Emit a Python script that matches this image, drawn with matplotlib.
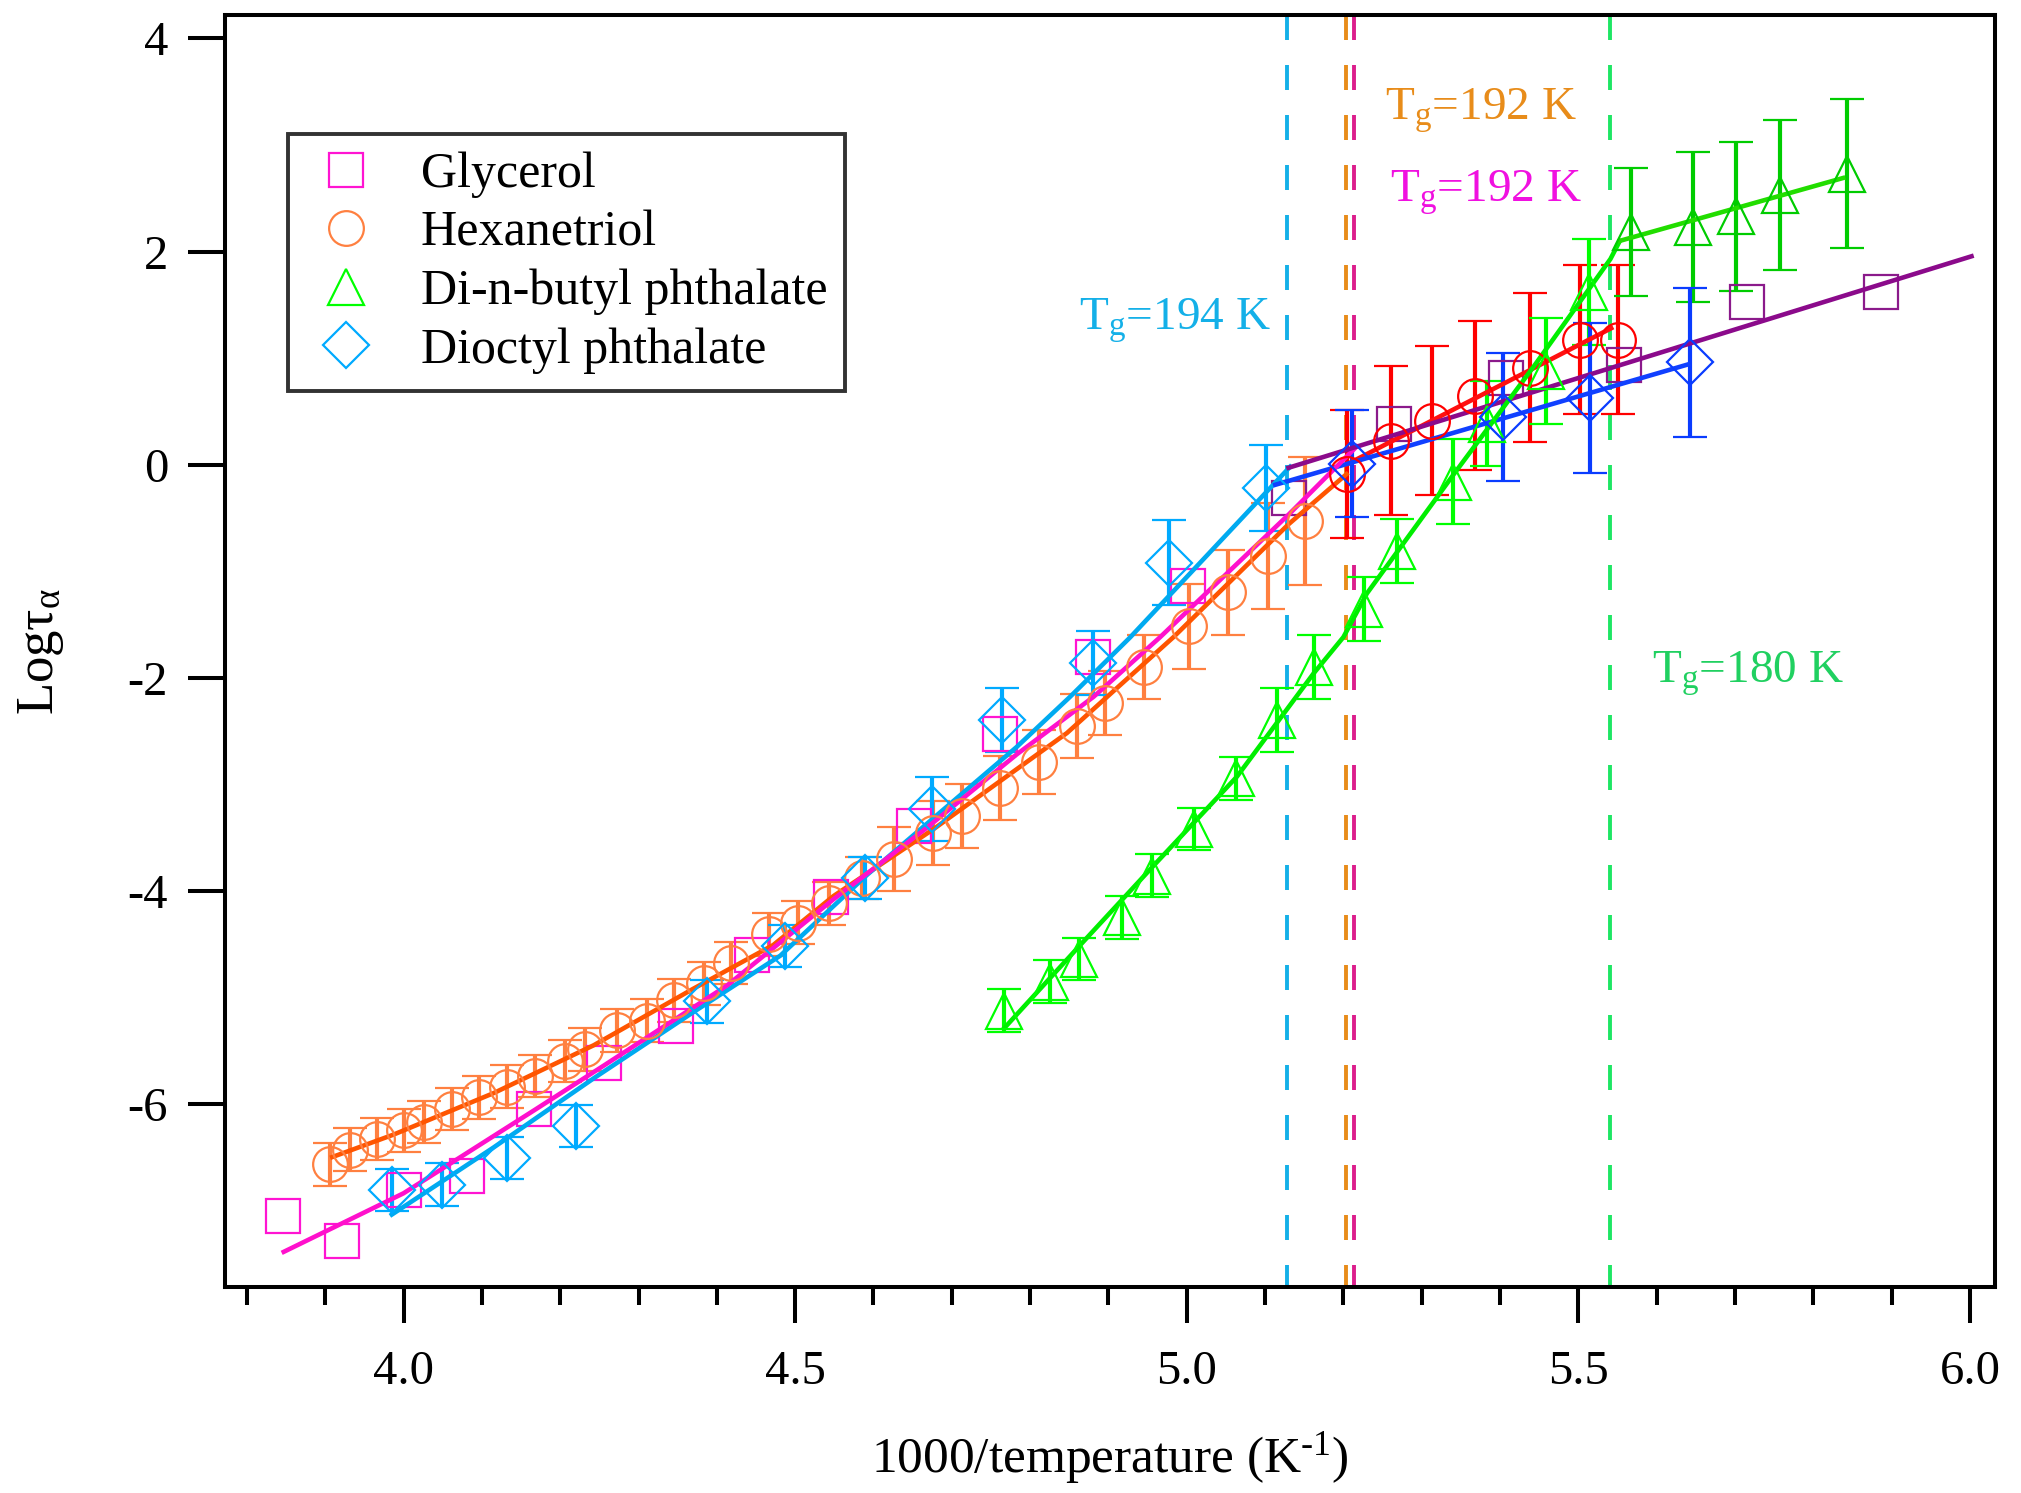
import numpy as np
import matplotlib
matplotlib.use('Agg')
import matplotlib.pyplot as plt
from matplotlib.lines import Line2D
from matplotlib.ticker import MultipleLocator, FormatStrFormatter

plt.rcParams['font.family'] = ['Liberation Serif', 'DejaVu Serif']
plt.rcParams['mathtext.fontset'] = 'custom'
plt.rcParams['mathtext.rm'] = 'Liberation Serif'
plt.rcParams['mathtext.it'] = 'Liberation Serif:italic'
plt.rcParams['axes.unicode_minus'] = False
plt.rcParams['lines.scale_dashes'] = False

# Glycerol (no error bars)
gly_x = [3.846, 3.921, 4.000, 4.081, 4.167, 4.256, 4.348, 4.445, 4.546, 4.652, 4.762, 4.880, 5.001]
gly_y = [-7.05, -7.29, -6.81, -6.68, -6.05, -5.62, -5.27, -4.60, -4.06, -3.39, -2.53, -1.81, -1.14]
gly_lo_x = [5.130, 5.265, 5.407, 5.558, 5.715, 5.886]
gly_lo_y = [-0.31, 0.385, 0.81, 0.93, 1.53, 1.62]

# Hexanetriol
hex_x = [3.906, 3.931, 3.966, 4.001, 4.026, 4.062, 4.096, 4.132, 4.168, 4.206, 4.232, 4.272,
         4.311, 4.345, 4.383, 4.418, 4.466, 4.504, 4.543, 4.585, 4.626, 4.676, 4.713, 4.762,
         4.811, 4.860, 4.896, 4.945, 5.003, 5.053, 5.104, 5.151]
hex_y = [-6.57, -6.43, -6.33, -6.25, -6.17, -6.05, -5.94, -5.84, -5.74, -5.60, -5.49, -5.31,
         -5.22, -5.03, -4.87, -4.68, -4.41, -4.30, -4.12, -3.88, -3.70, -3.46, -3.30, -3.04,
         -2.79, -2.45, -2.24, -1.90, -1.52, -1.20, -0.86, -0.53]
hex_err = [0.2] * 20 + [0.3] * 8 + [0.4, 0.4, 0.5, 0.6]
hex_lo_x = [5.204, 5.261, 5.313, 5.368, 5.438, 5.502, 5.551]
hex_lo_y = [-0.085, 0.225, 0.41, 0.645, 0.91, 1.17, 1.17]
hex_lo_err = [0.6, 0.7, 0.7, 0.7, 0.7, 0.7, 0.7]

# Di-n-butyl phthalate
dbp_x = [4.767, 4.825, 4.863, 4.917, 4.955, 5.009, 5.063, 5.115, 5.162, 5.226, 5.268, 5.340,
         5.384, 5.459, 5.513]
dbp_y = [-5.125, -4.854, -4.64, -4.25, -3.86, -3.42, -2.945, -2.40, -1.90, -1.36, -0.81, -0.16,
         0.385, 0.88, 1.62]
dbp_err = [0.2] * 7 + [0.3] * 4 + [0.4, 0.4, 0.5, 0.5]
dbp_lo_x = [5.567, 5.646, 5.701, 5.758, 5.843]
dbp_lo_y = [2.18, 2.23, 2.33, 2.53, 2.73]
dbp_lo_err = [0.6, 0.7, 0.7, 0.7, 0.7]

# Dioctyl phthalate
dop_x = [3.985, 4.049, 4.132, 4.220, 4.387, 4.487, 4.589, 4.675, 4.764, 4.880, 4.977, 5.101]
dop_y = [-6.81, -6.76, -6.51, -6.21, -5.04, -4.52, -3.88, -3.23, -2.40, -1.86, -0.92, -0.22]
dop_err = [0.2] * 7 + [0.3, 0.3, 0.3, 0.4, 0.4]
dop_lo_x = [5.211, 5.404, 5.515, 5.643]
dop_lo_y = [0.01, 0.45, 0.625, 0.96]
dop_lo_err = [0.5, 0.6, 0.7, 0.7]

# fit curves
gly_fit_x = [3.847, 4.000, 4.167, 4.256, 4.413, 4.549, 4.668, 4.783, 4.881, 4.966, 5.130, 5.217]
gly_fit_y = [-7.39, -6.84, -6.06, -5.64, -4.89, -4.08, -3.41, -2.72, -2.18, -1.62, -0.47, 0.17]
gly_lo_fit_x = [5.130, 6.002]
gly_lo_fit_y = [-0.03, 1.955]
hex_fit_x = [3.909, 3.987, 4.115, 4.243, 4.370, 4.472, 4.549, 4.677, 4.847, 4.983, 5.130, 5.204]
hex_fit_y = [-6.50, -6.29, -5.90, -5.45, -4.92, -4.51, -4.05, -3.42, -2.52, -1.62, -0.56, -0.09]
hex_lo_fit_x = [5.204, 5.542]
hex_lo_fit_y = [0.0, 1.28]
dbp_fit_x = [4.767, 4.864, 4.957, 5.064, 5.162, 5.200, 5.230, 5.340, 5.443, 5.541, 5.553]
dbp_fit_y = [-5.29, -4.51, -3.77, -2.93, -1.96, -1.62, -1.21, -0.10, 0.92, 1.93, 2.10]
dbp_lo_fit_x = [5.553, 5.838]
dbp_lo_fit_y = [2.10, 2.69]
dop_fit_x = [3.985, 4.115, 4.243, 4.370, 4.481, 4.592, 4.783, 4.851, 4.928, 5.132]
dop_fit_y = [-7.04, -6.41, -5.76, -5.14, -4.61, -3.85, -2.65, -2.18, -1.62, -0.02]
dop_lo_fit_x = [5.113, 5.640]
dop_lo_fit_y = [-0.19, 0.94]

# glass transitions
tg_x = [5.1285, 5.203, 5.214, 5.5405]
tg_colors = ['#14b0e8', '#e88c1a', '#dc1e8c', '#1ee664']

labels = ['Glycerol', 'Hexanetriol', 'Di-n-butyl phthalate', 'Dioctyl phthalate']

fig = plt.figure(figsize=(20.21, 14.93), dpi=100)
ax = fig.add_axes([225 / 2021, 1 - 1287 / 1493, 1770 / 2021, 1272 / 1493])

ekw = dict(linestyle='none', mfc='none', mew=1.6, elinewidth=3, capsize=12, capthick=3)

# vertical Tg lines
for xv, c in zip(tg_x, tg_colors):
    ax.plot([xv, xv], [1, 0], transform=ax.get_xaxis_transform(), color=c, lw=2.8,
            dashes=(18, 18), zorder=1)

ax.errorbar(hex_x, hex_y, yerr=hex_err, marker='o', ms=25, color='#ff8040', **ekw)
ax.errorbar(hex_lo_x, hex_lo_y, yerr=hex_lo_err, marker='o', ms=25, color='#ff0000', **ekw)
ax.errorbar(dbp_x, dbp_y, yerr=dbp_err, marker='^', ms=26, color='#00ff00', **ekw)
ax.errorbar(dbp_lo_x, dbp_lo_y, yerr=dbp_lo_err, marker='^', ms=26, color='#00cc00', **ekw)
ax.errorbar(dop_x, dop_y, yerr=dop_err, marker='D', ms=23, color='#00aaff', **ekw)
ax.errorbar(dop_lo_x, dop_lo_y, yerr=dop_lo_err, marker='D', ms=23, color='#0a3cff', **ekw)
ax.plot(gly_x, gly_y, 's', ms=24, mfc='none', mec='#ff14d2', mew=1.6)
ax.plot(gly_lo_x, gly_lo_y, 's', ms=24, mfc='none', mec='#8b1a8b', mew=1.6)

ax.plot(hex_fit_x, hex_fit_y, color='#ff5500', lw=3.3)
ax.plot(hex_lo_fit_x, hex_lo_fit_y, color='#ff1010', lw=3.3)
ax.plot(dop_fit_x, dop_fit_y, color='#00aaf0', lw=3.3)
ax.plot(dop_lo_fit_x, dop_lo_fit_y, color='#1040ff', lw=3.3)
ax.plot(gly_fit_x, gly_fit_y, color='#ff10cc', lw=3.3)
ax.plot(gly_lo_fit_x, gly_lo_fit_y, color='#8b0a8b', lw=3.3)
ax.plot(dbp_fit_x, dbp_fit_y, color='#00ee00', lw=3.3)
ax.plot(dbp_lo_fit_x, dbp_lo_fit_y, color='#22dd00', lw=3.3)

ax.text(5.253, 3.24, r'$\mathrm{T_g}$=192 K', color='#e88c1a', fontsize=34)
ax.text(5.259, 2.47, r'$\mathrm{T_g}$=192 K', color='#f010e0', fontsize=34)
ax.text(4.862, 1.27, r'$\mathrm{T_g}$=194 K', color='#14b0e8', fontsize=34)
ax.text(5.594, -2.05, r'$\mathrm{T_g}$=180 K', color='#20d060', fontsize=34)

handles = [
    Line2D([], [], ls='none', marker='s', ms=24, mfc='none', mec='#ff14d2', mew=1.6),
    Line2D([], [], ls='none', marker='o', ms=25, mfc='none', mec='#ff8040', mew=1.6),
    Line2D([], [], ls='none', marker='^', ms=26, mfc='none', mec='#00ff00', mew=1.6),
    Line2D([], [], ls='none', marker='D', ms=23, mfc='none', mec='#00aaff', mew=1.6),
]
leg = ax.legend(handles, labels, loc='upper left', bbox_to_anchor=(0.0356, 0.9064),
                fontsize=36, frameon=True, fancybox=False, edgecolor='black',
                borderpad=0.35, labelspacing=0.24, handletextpad=0.7, handlelength=1.6,
                borderaxespad=0)
leg.get_frame().set_linewidth(2.8)

ax.set_xlim(3.772, 6.032)
ax.set_ylim(-7.72, 4.22)
ax.xaxis.set_major_locator(MultipleLocator(0.5))
ax.xaxis.set_minor_locator(MultipleLocator(0.1))
ax.xaxis.set_major_formatter(FormatStrFormatter('%.1f'))
ax.yaxis.set_major_locator(MultipleLocator(2))
ax.tick_params(axis='x', which='major', direction='out', length=26, width=2.9, pad=19, labelsize=35)
ax.tick_params(axis='x', which='minor', direction='out', length=13, width=2.9)
ax.tick_params(axis='y', which='major', direction='out', length=27, width=2.9, pad=14, labelsize=35)
ax.tick_params(top=False, right=False)
for s in ax.spines.values():
    s.set_linewidth(2.9)

ax.set_xlabel('1000/temperature (K$^{\\mathrm{\u2010}1}$)', fontsize=37, labelpad=26)
ax.set_ylabel(r'Log$\mathrm{\tau_\alpha}$', fontsize=38, labelpad=44)

fig.savefig('out.png', dpi=100)
